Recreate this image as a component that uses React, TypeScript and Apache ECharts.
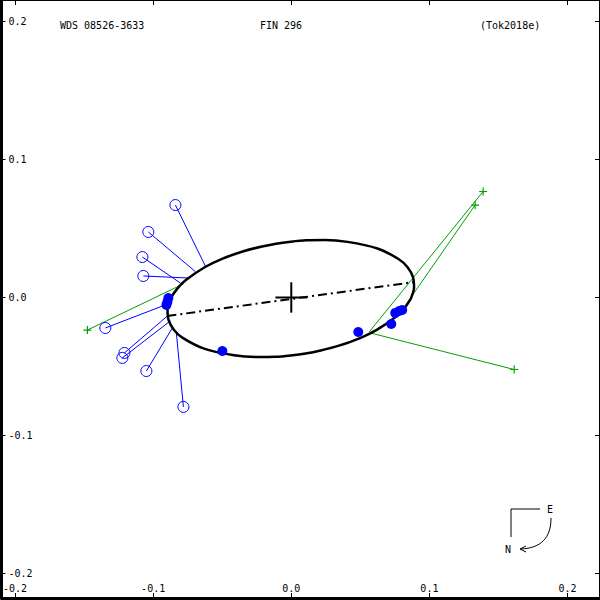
import React, { useEffect, useRef } from "react";
import * as echarts from "echarts";

const xTickValues = [-0.2, -0.1, 0.0, 0.1, 0.2];
const yTickValues = [-0.2, -0.1, 0.0, 0.1, 0.2];

const orbitPoints: [number, number][] = [
  [0.0866, -0.0008], [0.0889, 0.007], [0.0881, 0.0148], [0.0842, 0.0219],
  [0.0779, 0.0277], [0.0624, 0.0355], [0.0407, 0.0403], [0.0241, 0.0416],
  [0.0109, 0.0414], [-0.0004, 0.0404], [-0.011, 0.039], [-0.022, 0.0368],
  [-0.0346, 0.0335], [-0.0501, 0.028], [-0.0627, 0.0219], [-0.0763, 0.0126],
  [-0.0825, 0.0064], [-0.0873, -0.0008], [-0.0896, -0.0086], [-0.0888, -0.0164],
  [-0.0849, -0.0235], [-0.0786, -0.0293], [-0.0631, -0.0371], [-0.0415, -0.0419],
  [-0.0248, -0.0432], [-0.0116, -0.043], [-0.0004, -0.042], [0.0103, -0.0406],
  [0.0213, -0.0384], [0.0339, -0.0351], [0.0494, -0.0296], [0.0619, -0.0235],
  [0.0755, -0.0142], [0.0818, -0.008], [0.0866, -0.0008],
];

const apsides: [number, number][] = [[-0.0897, -0.0134], [0.089, 0.0112]];

const primaryH: [number, number][] = [[-0.0115, 0], [0.0115, 0]];
const primaryV: [number, number][] = [[0, -0.011], [0, 0.011]];

const filledObs: [number, number][] = [
  [-0.089, -0.0004], [-0.0897, -0.0033], [-0.0904, -0.0054], [-0.0499, -0.0388],
  [0.0485, -0.025], [0.0724, -0.0192], [0.0753, -0.0112], [0.0781, -0.0098],
  [0.0803, -0.0091],
];

const openObs: [number, number][] = [
  [-0.0839, 0.067], [-0.1035, 0.0475], [-0.1078, 0.0293], [-0.1071, 0.0156],
  [-0.1346, -0.0221], [-0.1208, -0.0402], [-0.1223, -0.0438], [-0.1049, -0.0533],
  [-0.0781, -0.0793],
];
const openObsOrbit: [number, number][] = [
  [-0.0622, 0.0228], [-0.0695, 0.0188], [-0.0803, 0.0105], [-0.0745, 0.0141],
  [-0.0912, -0.0054], [-0.0897, -0.0134], [-0.0876, -0.017], [-0.0861, -0.0221],
  [-0.0832, -0.0257],
];

const plusObs: [number, number][] = [
  [-0.1476, -0.0236], [0.1389, 0.0768], [0.1331, 0.067], [0.1614, -0.0522],
];
const plusObsOrbit: [number, number][] = [
  [-0.0781, 0.0098], [0.0564, -0.025], [0.0803, -0.0091], [0.0572, -0.0257],
];

const titleLeft = "WDS 08526-3633";
const titleMid = "FIN 296";
const titleRight = "(Tok2018e)";

const FONT = "DejaVu Sans Mono";
const BLUE = "#0000ff";
const GREEN = "#00a000";

const X_MIN = -0.2098;
const X_MAX = 0.2228;
const Y_MIN = -0.2178;
const Y_MAX = 0.2156;

const fmt = (v: number) => (Math.abs(v) < 1e-9 ? "0.0" : v.toFixed(1));

export default function App() {
  const ref = useRef<HTMLDivElement>(null);
  useEffect(() => {
    if (!ref.current) return;
    const chart = echarts.init(ref.current, null, { renderer: "svg" });
    const axisCommon = {
      type: "value" as const,
      splitLine: { show: false },
    };
    chart.setOption({
      animation: false,
      backgroundColor: "#ffffff",
      grid: { left: 1, right: 1, top: 0, bottom: 2, containLabel: false },
      xAxis: [
        {
          ...axisCommon,
          position: "bottom",
          min: X_MIN,
          max: X_MAX,
          axisLine: { show: true, onZero: false, lineStyle: { color: "#000", width: 3 } },
          axisTick: { show: true, inside: true, length: 5, customValues: xTickValues, lineStyle: { color: "#000", width: 1 } },
          axisLabel: {
            show: true,
            inside: true,
            margin: 5,
            customValues: xTickValues,
            formatter: (v: number) => fmt(v),
            color: "#000",
            fontFamily: FONT,
            fontSize: 10,
            showMinLabel: true,
            showMaxLabel: true,
          },
        },
        {
          ...axisCommon,
          position: "top",
          min: X_MIN,
          max: X_MAX,
          axisLine: { show: true, onZero: false, lineStyle: { color: "#000", width: 1 } },
          axisTick: { show: true, inside: true, length: 5, customValues: xTickValues, lineStyle: { color: "#000" } },
          axisLabel: { show: false },
        },
      ],
      yAxis: [
        {
          ...axisCommon,
          position: "left",
          min: Y_MIN,
          max: Y_MAX,
          axisLine: { show: true, onZero: false, lineStyle: { color: "#000", width: 3 } },
          axisTick: { show: true, inside: true, length: 4, customValues: yTickValues, lineStyle: { color: "#000" } },
          axisLabel: {
            show: true,
            inside: true,
            margin: 7,
            customValues: yTickValues,
            formatter: (v: number) => fmt(v),
            color: "#000",
            fontFamily: FONT,
            fontSize: 10,
            showMinLabel: true,
            showMaxLabel: true,
          },
        },
        {
          ...axisCommon,
          position: "right",
          min: Y_MIN,
          max: Y_MAX,
          axisLine: { show: true, onZero: false, lineStyle: { color: "#000", width: 1 } },
          axisTick: { show: true, inside: true, length: 4, customValues: yTickValues, lineStyle: { color: "#000" } },
          axisLabel: { show: false },
        },
      ],
      series: [
        {
          type: "lines",
          coordinateSystem: "cartesian2d",
          silent: true,
          lineStyle: { color: BLUE, width: 1, opacity: 1 },
          data: openObs.map((p, i) => ({ coords: [p, openObsOrbit[i]] })),
          z: 2,
        },
        {
          type: "lines",
          coordinateSystem: "cartesian2d",
          silent: true,
          lineStyle: { color: GREEN, width: 1, opacity: 1 },
          data: plusObs.map((p, i) => ({ coords: [p, plusObsOrbit[i]] })),
          z: 2,
        },
        {
          type: "line",
          data: orbitPoints,
          smooth: 0.25,
          showSymbol: false,
          symbol: "none",
          lineStyle: { color: "#000", width: 2.5 },
          z: 3,
        },
        {
          type: "line",
          data: apsides,
          showSymbol: false,
          symbol: "none",
          lineStyle: { color: "#000", width: 2, type: [9, 4, 2, 4] },
          z: 3,
        },
        {
          type: "line",
          data: primaryH,
          showSymbol: false,
          symbol: "none",
          lineStyle: { color: "#000", width: 2 },
          z: 4,
        },
        {
          type: "line",
          data: primaryV,
          showSymbol: false,
          symbol: "none",
          lineStyle: { color: "#000", width: 2 },
          z: 4,
        },
        {
          type: "scatter",
          data: filledObs,
          symbol: "circle",
          symbolSize: 10,
          itemStyle: { color: BLUE, opacity: 1 },
          z: 5,
        },
        {
          type: "scatter",
          data: openObs,
          symbol: "circle",
          symbolSize: 11,
          itemStyle: { color: "transparent", borderColor: BLUE, borderWidth: 1, opacity: 1 },
          z: 5,
        },
        {
          type: "scatter",
          data: plusObs,
          symbol: "path://M0,5 L10,5 M5,0 L5,10",
          symbolSize: 8,
          itemStyle: { color: "transparent", borderColor: GREEN, borderWidth: 1.2, opacity: 1 },
          z: 5,
        },
      ],
      graphic: [
        { type: "text", x: 60, y: 25, style: { text: titleLeft, fontFamily: FONT, fontSize: 10, fill: "#000", verticalAlign: "middle" } },
        { type: "text", x: 260, y: 25, style: { text: titleMid, fontFamily: FONT, fontSize: 10, fill: "#000", verticalAlign: "middle" } },
        { type: "text", x: 480, y: 25, style: { text: titleRight, fontFamily: FONT, fontSize: 10, fill: "#000", verticalAlign: "middle" } },
        { type: "polyline", shape: { points: [[540, 509], [511, 509], [511, 537]] }, style: { stroke: "#000", lineWidth: 1, fill: null } },
        { type: "text", x: 550, y: 509, style: { text: "E", fontFamily: FONT, fontSize: 10, fill: "#000", align: "center", verticalAlign: "middle" } },
        { type: "text", x: 508, y: 549, style: { text: "N", fontFamily: FONT, fontSize: 10, fill: "#000", align: "center", verticalAlign: "middle" } },
        { type: "bezierCurve", shape: { x1: 551, y1: 518, cpx1: 551, cpy1: 538, cpx2: 541, cpy2: 548, x2: 521, y2: 549 }, style: { stroke: "#000", lineWidth: 1, fill: null } },
        { type: "polyline", shape: { points: [[526, 546], [520, 549], [526, 552]] }, style: { stroke: "#000", lineWidth: 1, fill: null } },
      ],
    });
    return () => chart.dispose();
  }, []);
  return <div ref={ref} style={{ width: 600, height: 600, position: "absolute", left: 0, top: 0 }} />;
}
